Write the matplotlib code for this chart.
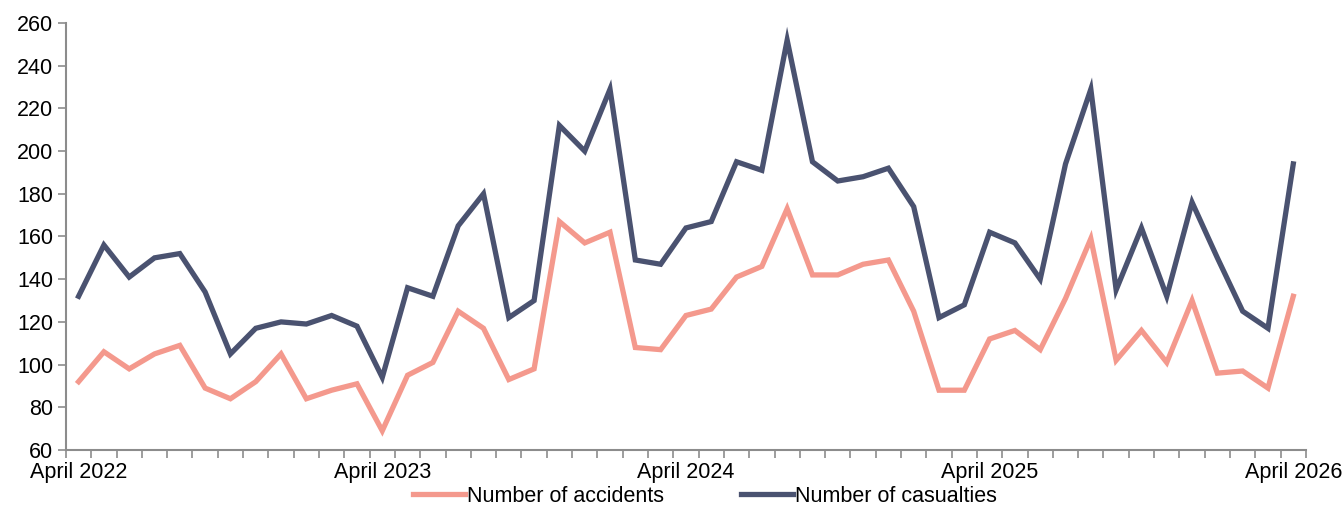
import matplotlib

matplotlib.use("Agg")

import matplotlib.pyplot as plt
import numpy as np
from matplotlib.ticker import FixedLocator

plt.rcParams["font.family"] = ["Liberation Sans", "DejaVu Sans"]

# Monthly series, April 2022 .. April 2026
accidents = [92, 106, 98, 105, 109, 89, 84, 92, 105, 84, 88, 91,
             69, 95, 101, 125, 117, 93, 98, 167, 157, 162, 108, 107,
             123, 126, 141, 146, 173, 142, 142, 147, 149, 125, 88, 88,
             112, 116, 107, 131, 159, 102, 116, 101, 130, 96, 97, 89,
             132]
casualties = [132, 156, 141, 150, 152, 134, 105, 117, 120, 119, 123, 118,
              94, 136, 132, 165, 180, 122, 130, 212, 200, 229, 149, 147,
              164, 167, 195, 191, 252, 195, 186, 188, 192, 174, 122, 128,
              162, 157, 140, 194, 229, 135, 164, 132, 176, 150, 125, 117,
              194]
label_pos = [0, 12, 24, 36, 48]
label_text = ["April 2022", "April 2023", "April 2024", "April 2025", "April 2026"]

ACC_COLOR = "#F4998D"
CAS_COLOR = "#4A5270"
AXIS_GREY = "#8C8C8C"
FS = 15.5

fig = plt.figure(figsize=(13.43, 5.08), dpi=100)
ax = fig.add_axes([0.0491, 0.1142, 0.9233, 0.8405])

x = np.arange(len(accidents))
ax.plot(x, accidents, color=ACC_COLOR, linewidth=3.8, label="Number of accidents",
        solid_joinstyle="miter")
ax.plot(x, casualties, color=CAS_COLOR, linewidth=3.8, label="Number of casualties",
        solid_joinstyle="miter")

ax.set_xlim(-0.5, len(accidents) - 0.5)
ax.set_ylim(60, 260)
ax.set_yticks(range(60, 261, 20))

ax.set_xticks(label_pos)
ax.set_xticklabels(label_text)
ax.xaxis.set_minor_locator(FixedLocator(np.arange(-0.5, len(accidents), 1.0)))
ax.tick_params(axis="x", which="major", length=0, pad=9, labelsize=FS)
ax.tick_params(axis="x", which="minor", length=6, width=1.2, color=AXIS_GREY, direction="out")
ax.tick_params(axis="y", length=6, width=1.2, color=AXIS_GREY, labelsize=FS, pad=3)

for side in ("top", "right"):
    ax.spines[side].set_visible(False)
for side in ("left", "bottom"):
    ax.spines[side].set_color(AXIS_GREY)
    ax.spines[side].set_linewidth(1.5)

fig.legend(loc="lower center", bbox_to_anchor=(0.525, -0.036), ncol=2, frameon=False,
           fontsize=FS, handlelength=2.4, handletextpad=0.1, columnspacing=3.6)

fig.savefig("out.png", dpi=100)
